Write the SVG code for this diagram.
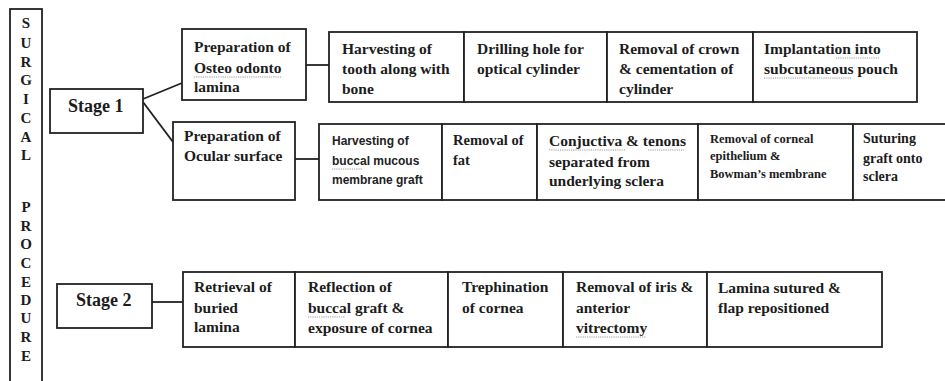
<svg xmlns="http://www.w3.org/2000/svg" width="945" height="381" viewBox="0 0 945 381">
<style>
  .box{fill:#fff;stroke:#222;stroke-width:1.8}
  .ln{stroke:#222;stroke-width:1.8;fill:none}
  .t{font-family:'Liberation Serif',serif;font-weight:bold;font-size:15.5px;fill:#1c1c1c}
  .st{font-family:'Liberation Serif',serif;font-weight:bold;font-size:18px;fill:#1c1c1c}
  .v{font-family:'Liberation Serif',serif;font-weight:bold;font-size:15px;fill:#1c1c1c;text-anchor:middle}
  .s{font-family:'Liberation Sans',sans-serif;font-weight:bold;font-size:12px;fill:#222}
  .sm{font-family:'Liberation Serif',serif;font-weight:bold;font-size:12.5px;fill:#1c1c1c}
  .sq{stroke:#9a9a9a;stroke-width:1;fill:none;stroke-dasharray:1.2 1}
</style>
<rect width="945" height="381" fill="#fff"/>

<g id="side">
  <rect class="box" x="10" y="9" width="32" height="390"/>
  <text class="v" x="26" y="28">S</text>
  <text class="v" x="26" y="47.5">U</text>
  <text class="v" x="26" y="66.5">R</text>
  <text class="v" x="26" y="85">G</text>
  <text class="v" x="26" y="103.5">I</text>
  <text class="v" x="26" y="122.5">C</text>
  <text class="v" x="26" y="141.5">A</text>
  <text class="v" x="26" y="160">L</text>
  <text class="v" x="26" y="211.5">P</text>
  <text class="v" x="26" y="231">R</text>
  <text class="v" x="26" y="249">O</text>
  <text class="v" x="26" y="268">C</text>
  <text class="v" x="26" y="287">E</text>
  <text class="v" x="26" y="305">D</text>
  <text class="v" x="26" y="323">U</text>
  <text class="v" x="26" y="342">R</text>
  <text class="v" x="26" y="361">E</text>
</g>

<g id="connectors">
  <line class="ln" x1="143" y1="99" x2="182" y2="83"/>
  <line class="ln" x1="143" y1="102" x2="173" y2="142"/>
  <line class="ln" x1="306" y1="65" x2="329" y2="65"/>
  <line class="ln" x1="295" y1="159" x2="319" y2="159"/>
  <line class="ln" x1="152" y1="302" x2="183" y2="302"/>
</g>

<g id="stage1">
  <rect class="box" x="50" y="89" width="93" height="44"/>
  <text class="st" x="68" y="112">Stage 1</text>
</g>

<g id="osteo">
  <rect class="box" x="182" y="29" width="124" height="71"/>
  <text class="t" x="194" y="52">Preparation of</text>
  <text class="t" x="194" y="73">Osteo odonto</text>
  <text class="t" x="194" y="92">lamina</text>
  <path class="sq" d="M194 77 H281"/>
</g>

<g id="row1">
  <rect class="box" x="329" y="32" width="135" height="70"/>
  <text class="t" x="342" y="54">Harvesting of</text>
  <text class="t" x="342" y="74">tooth along with</text>
  <text class="t" x="342" y="94">bone</text>
  <rect class="box" x="464" y="32" width="143" height="70"/>
  <text class="t" x="477" y="54">Drilling hole for</text>
  <text class="t" x="477" y="74">optical cylinder</text>
  <rect class="box" x="607" y="32" width="146" height="70"/>
  <text class="t" x="619" y="54">Removal of crown</text>
  <text class="t" x="619" y="74">&amp; cementation of</text>
  <text class="t" x="619" y="94">cylinder</text>
  <rect class="box" x="753" y="32" width="164" height="70"/>
  <text class="t" x="764" y="54">Implantation into</text>
  <text class="t" x="764" y="74">subcutaneous pouch</text>
  <path class="sq" d="M836 58 H879 M764 78 H851"/>
</g>

<g id="ocular">
  <rect class="box" x="173" y="122" width="122" height="78"/>
  <text class="t" x="184" y="141">Preparation of</text>
  <text class="t" x="184" y="161">Ocular surface</text>
</g>

<g id="row2">
  <rect class="box" x="319" y="124" width="123" height="76"/>
  <text class="s" x="332" y="145">Harvesting of</text>
  <text class="s" x="332" y="165">buccal mucous</text>
  <text class="s" x="332" y="184">membrane graft</text>
  <path class="sq" d="M332 169 H363"/>
  <rect class="box" x="442" y="124" width="95" height="76"/>
  <text class="t" x="453" y="145" style="font-size:14.5px">Removal of</text>
  <text class="t" x="453" y="165" style="font-size:14.5px">fat</text>
  <rect class="box" x="537" y="124" width="161" height="76"/>
  <text class="t" x="549" y="146">Conjuctiva &amp; tenons</text>
  <text class="t" x="549" y="167">separated from</text>
  <text class="t" x="549" y="186">underlying sclera</text>
  <path class="sq" d="M549 150 H626 M648 150 H684"/>
  <rect class="box" x="698" y="124" width="155" height="76"/>
  <text class="sm" x="710" y="143">Removal of corneal</text>
  <text class="sm" x="710" y="160">epithelium &amp;</text>
  <text class="sm" x="710" y="178">Bowman’s membrane</text>
  <rect class="box" x="853" y="124" width="100" height="76"/>
  <text class="t" x="863" y="143" style="font-size:14px">Suturing</text>
  <text class="t" x="863" y="163" style="font-size:14px">graft onto</text>
  <text class="t" x="863" y="181" style="font-size:14px">sclera</text>
</g>

<g id="stage2">
  <rect class="box" x="57" y="284" width="95" height="44"/>
  <text class="st" x="76" y="306">Stage 2</text>
</g>

<g id="row3">
  <rect class="box" x="183" y="272" width="112" height="75"/>
  <text class="t" x="194" y="292">Retrieval of</text>
  <text class="t" x="194" y="313">buried</text>
  <text class="t" x="194" y="332">lamina</text>
  <rect class="box" x="295" y="272" width="153" height="75"/>
  <text class="t" x="308" y="292">Reflection of</text>
  <text class="t" x="308" y="313">buccal graft &amp;</text>
  <text class="t" x="308" y="333">exposure of cornea</text>
  <path class="sq" d="M308 317 H345"/>
  <rect class="box" x="448" y="272" width="115" height="75"/>
  <text class="t" x="462" y="292">Trephination</text>
  <text class="t" x="462" y="313">of cornea</text>
  <rect class="box" x="563" y="272" width="144" height="75"/>
  <text class="t" x="576" y="292">Removal of iris &amp;</text>
  <text class="t" x="576" y="313">anterior</text>
  <text class="t" x="576" y="333">vitrectomy</text>
  <path class="sq" d="M576 337 H646"/>
  <rect class="box" x="707" y="272" width="175" height="75"/>
  <text class="t" x="718" y="293">Lamina sutured  &amp;</text>
  <text class="t" x="718" y="313">flap repositioned</text>
</g>
</svg>
